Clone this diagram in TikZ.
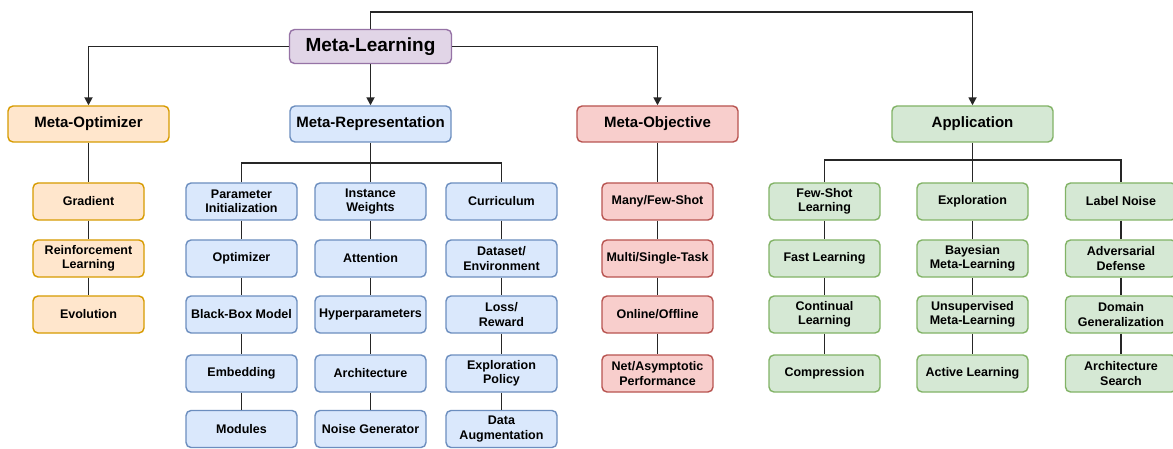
\documentclass[tikz,border=0pt]{standalone}
\usepackage{fontspec}
\setmainfont{Liberation Sans}
\usetikzlibrary{arrows.meta}
\definecolor{purF}{HTML}{E1D5E7}\definecolor{purD}{HTML}{9673A6}
\definecolor{oraF}{HTML}{FFE6CC}\definecolor{oraD}{HTML}{D79B00}
\definecolor{bluF}{HTML}{DAE8FC}\definecolor{bluD}{HTML}{6C8EBF}
\definecolor{redF}{HTML}{F8CECC}\definecolor{redD}{HTML}{B85450}
\definecolor{grnF}{HTML}{D5E8D4}\definecolor{grnD}{HTML}{82B366}
\tikzset{
  box/.style={draw, rounded corners=5pt, line width=1.4pt, align=center, inner sep=0pt,
    font=\bfseries\fontsize{12.5}{14.5}\selectfont, minimum width=111pt, minimum height=37pt},
  lvl/.style={box, minimum width=161pt, minimum height=36pt, font=\bfseries\fontsize{15}{18}\selectfont},
  rootbox/.style={box, minimum width=162pt, minimum height=34pt, font=\bfseries\fontsize{19}{22}\selectfont, fill=purF, draw=purD},
  ora/.style={fill=oraF, draw=oraD},
  blu/.style={fill=bluF, draw=bluD},
  rd/.style={fill=redF, draw=redD},
  grn/.style={fill=grnF, draw=grnD},
  link/.style={draw=black!85, line width=1.7pt},
  arr/.style={link, -{Triangle[length=8pt,width=8pt]}}
}
\begin{document}
\begin{tikzpicture}[x=1pt,y=-1pt]
\useasboundingbox[fill=white] (0,0) rectangle (1173,449);
% root
\node[rootbox] (root) at (370.5,46.5) {Meta-Learning};
% level 1
\node[lvl,ora] (mopt) at (88.5,124) {Meta-Optimizer};
\node[lvl,blu] (mrep) at (370.5,124) {Meta-Representation};
\node[lvl,rd]  (mobj) at (657.5,124) {Meta-Objective};
\node[lvl,grn] (app)  at (972.5,124) {Application};
\coordinate (topy) at (0,12);
\draw[arr] (root.north) -- (root.north |- topy) -| (app.north);
\draw[arr] (root.west) -| (mopt.north);
\draw[arr] (root.south) -- (mrep.north);
\draw[arr] (root.east) -| (mobj.north);
% Meta-Optimizer
\node[box,ora] (o1) at (88.5,201.5) {Gradient};
\node[box,ora] (o2) at (88.5,258.5) {Reinforcement\\Learning};
\node[box,ora] (o3) at (88.5,314.5) {Evolution};
\draw[link] (mopt.south) -- (o1.north);
\draw[link] (o1.south) -- (o2.north);
\draw[link] (o2.south) -- (o3.north);
% Meta-Representation
\node[box,blu] (a1) at (241.5,201.5) {Parameter\\Initialization};
\node[box,blu] (a2) at (241.5,258.5) {Optimizer};
\node[box,blu] (a3) at (241.5,314.5) {Black-Box Model};
\node[box,blu] (a4) at (241.5,373.5) {Embedding};
\node[box,blu] (a5) at (241.5,429) {Modules};
\node[box,blu] (b1) at (370.5,201.5) {Instance\\Weights};
\node[box,blu] (b2) at (370.5,258.5) {Attention};
\node[box,blu] (b3) at (370.5,314.5) {Hyperparameters};
\node[box,blu] (b4) at (370.5,373.5) {Architecture};
\node[box,blu] (b5) at (370.5,429) {Noise Generator};
\node[box,blu] (c1) at (501.5,201.5) {Curriculum};
\node[box,blu] (c2) at (501.5,258.5) {Dataset/\\Environment};
\node[box,blu] (c3) at (501.5,314.5) {Loss/\\Reward};
\node[box,blu] (c4) at (501.5,373.5) {Exploration\\Policy};
\node[box,blu] (c5) at (501.5,429) {Data\\Augmentation};
\coordinate (repbar) at (0,163);
\draw[link] (mrep.south) -- (b1.north);
\draw[link] (a1.north) -- (a1.north |- repbar) -- (c1.north |- repbar) -- (c1.north);
\foreach \c in {a,b,c}{
  \draw[link] (\c1.south) -- (\c2.north);
  \draw[link] (\c2.south) -- (\c3.north);
  \draw[link] (\c3.south) -- (\c4.north);
  \draw[link] (\c4.south) -- (\c5.north);
}
% Meta-Objective
\node[box,rd] (j1) at (657.5,201.5) {Many/Few-Shot};
\node[box,rd] (j2) at (657.5,258.5) {Multi/Single-Task};
\node[box,rd] (j3) at (657.5,314.5) {Online/Offline};
\node[box,rd] (j4) at (657.5,373.5) {Net/Asymptotic\\Performance};
\draw[link] (mobj.south) -- (j1.north);
\draw[link] (j1.south) -- (j2.north);
\draw[link] (j2.south) -- (j3.north);
\draw[link] (j3.south) -- (j4.north);
% Application
\node[box,grn] (d1) at (824.5,201.5) {Few-Shot\\Learning};
\node[box,grn] (d2) at (824.5,258.5) {Fast Learning};
\node[box,grn] (d3) at (824.5,314.5) {Continual\\Learning};
\node[box,grn] (d4) at (824.5,373.5) {Compression};
\node[box,grn] (e1) at (972.5,201.5) {Exploration};
\node[box,grn] (e2) at (972.5,258.5) {Bayesian\\Meta-Learning};
\node[box,grn] (e3) at (972.5,314.5) {Unsupervised\\Meta-Learning};
\node[box,grn] (e4) at (972.5,373.5) {Active Learning};
\node[box,grn] (f1) at (1121,201.5) {Label Noise};
\node[box,grn] (f2) at (1121,258.5) {Adversarial\\Defense};
\node[box,grn] (f3) at (1121,314.5) {Domain\\Generalization};
\node[box,grn] (f4) at (1121,373.5) {Architecture\\Search};
\coordinate (appbar) at (0,160);
\draw[link] (app.south) -- (e1.north);
\draw[link] (d1.north) -- (d1.north |- appbar) -- (f1.north |- appbar) -- (f1.north);
\foreach \c in {d,e,f}{
  \draw[link] (\c1.south) -- (\c2.north);
  \draw[link] (\c2.south) -- (\c3.north);
  \draw[link] (\c3.south) -- (\c4.north);
}
\end{tikzpicture}
\end{document}
